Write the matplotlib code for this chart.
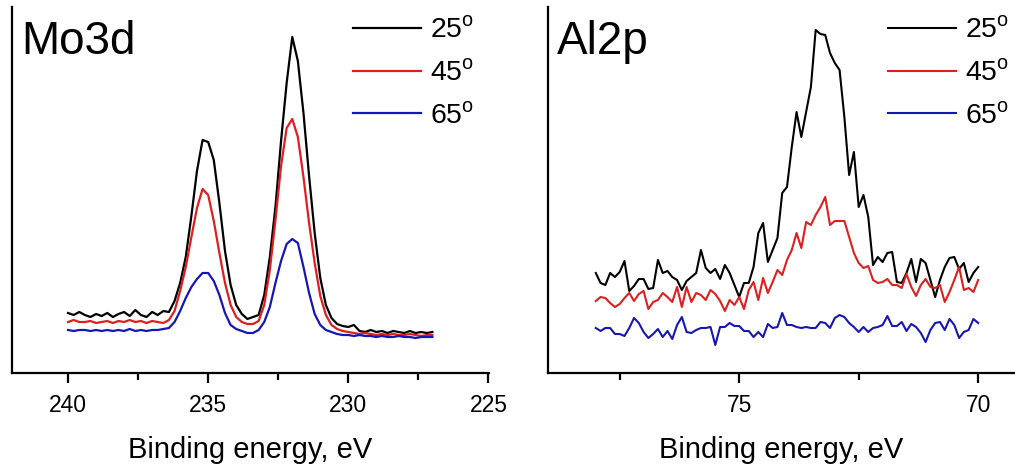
import numpy as np
import matplotlib
matplotlib.use('Agg')
import matplotlib.pyplot as plt
from matplotlib.ticker import MultipleLocator, NullLocator

plt.rcParams['font.family'] = ['Liberation Sans', 'DejaVu Sans']
plt.rcParams['mathtext.fontset'] = 'custom'
plt.rcParams['mathtext.rm'] = 'Liberation Sans'

# Mo3d spectra, 240.0 -> 227.0 eV, step 0.2 eV (arb. units)
mo_energy = np.round(np.linspace(240.0, 227.0, 66), 1)
mo_25 = [60, 58, 61, 58, 56, 59, 57, 60, 56, 59, 61, 57, 63, 58, 56, 61, 58, 62, 61, 72,
         90, 116, 157, 202, 233, 231, 213, 170, 122, 88, 68, 59, 54, 56, 58, 78,
         116, 166, 232, 290, 336, 312, 260, 197, 140, 95, 68, 55, 49, 47, 46, 48,
         42, 41, 43, 41, 42, 40, 42, 41, 40, 42, 40, 41, 40, 41]
mo_45 = [51, 53, 51, 51, 52, 50, 51, 52, 50, 52, 51, 53, 51, 52, 50, 52, 51, 50, 53, 62,
         82, 106, 136, 165, 184, 178, 152, 120, 90, 68, 56, 51, 49, 49, 52, 68,
         103, 153, 207, 245, 254, 236, 196, 150, 110, 77, 58, 48, 44, 42, 41, 40,
         39, 40, 39, 38, 39, 38, 39, 38, 38, 39, 38, 37, 38, 38]
mo_65 = [43, 42, 43, 43, 42, 43, 42, 43, 42, 43, 42, 44, 42, 43, 42, 43, 43, 44, 45, 51,
         62, 75, 86, 94, 100, 100, 92, 78, 60, 48, 44, 42, 40, 40, 43, 51,
         66, 90, 112, 129, 134, 130, 106, 80, 59, 48, 43, 41, 39, 38, 38, 37,
         38, 37, 37, 36, 37, 36, 36, 37, 36, 36, 35, 36, 36, 36]

# Al2p spectra, 78.0 -> 70.0 eV, step 0.1 eV (arb. units)
al_energy = np.round(np.linspace(78.0, 70.0, 81), 1)
al_25 = [100, 90, 88, 100, 96, 101, 112, 82, 87, 94, 94, 84, 85, 113, 100, 102, 96, 93, 83, 92,
         96, 100, 123, 105, 100, 104, 94, 108, 100, 88, 76, 90, 90, 106, 140, 150, 111, 123, 135, 180,
         186, 226, 261, 236, 261, 286, 343, 339, 338, 320, 310, 303, 256, 198, 221, 166, 178, 156, 108, 116,
         111, 120, 121, 91, 90, 100, 114, 91, 114, 110, 93, 76, 93, 106, 115, 116, 104, 110, 91, 100,
         106]
al_45 = [72, 76, 75, 70, 66, 69, 75, 80, 72, 79, 82, 64, 71, 73, 80, 76, 71, 86, 66, 86,
         71, 80, 78, 73, 83, 79, 72, 62, 73, 68, 76, 64, 83, 91, 73, 95, 80, 91, 103, 98,
         113, 123, 140, 125, 151, 148, 158, 166, 176, 148, 152, 152, 152, 136, 120, 110, 105, 107, 93, 90,
         91, 94, 88, 88, 85, 99, 86, 77, 88, 94, 86, 85, 88, 71, 81, 93, 106, 83, 85, 81,
         93]
al_65 = [45, 42, 45, 45, 39, 39, 37, 45, 55, 50, 41, 35, 39, 44, 36, 42, 34, 48, 56, 41,
         40, 43, 45, 45, 46, 28, 46, 46, 50, 47, 47, 42, 42, 36, 41, 36, 49, 45, 46, 60,
         48, 48, 46, 45, 46, 45, 45, 51, 50, 45, 55, 58, 56, 50, 46, 41, 46, 41, 45, 46,
         48, 57, 47, 47, 51, 42, 49, 46, 40, 31, 43, 50, 51, 43, 54, 48, 35, 41, 43, 54,
         50]

labels = ['25$^{\\mathrm{o}}$', '45$^{\\mathrm{o}}$', '65$^{\\mathrm{o}}$']
colors = ['#000000', '#dd1f1f', '#1616b4']

W, H = 1015, 468
fig = plt.figure(figsize=(W / 100, H / 100), dpi=100)
ax1 = fig.add_axes([12 / W, (H - 373) / H, 477 / W, 366 / H])
ax2 = fig.add_axes([548 / W, (H - 373) / H, 467 / W, 366 / H])


def style(ax, name, xlim, leg_x):
    ax.set_xlim(*xlim)
    ax.set_ylim(0, 366)
    ax.spines['top'].set_visible(False)
    ax.spines['right'].set_visible(False)
    ax.spines['left'].set_linewidth(1.6)
    ax.spines['bottom'].set_linewidth(1.6)
    ax.yaxis.set_major_locator(NullLocator())
    ax.xaxis.set_major_locator(MultipleLocator(5))
    ax.xaxis.set_minor_locator(MultipleLocator(2.5))
    ax.tick_params(axis='x', which='major', direction='out', length=7, width=1.6,
                   labelsize=16.5, pad=8)
    ax.tick_params(axis='x', which='minor', direction='out', length=5, width=1.6)
    ax.set_xlabel('Binding energy, eV', fontsize=21, labelpad=14)
    ax.text(0.02, 0.965, name, transform=ax.transAxes, fontsize=33,
            va='top', ha='left')
    ax.legend(loc='upper left', bbox_to_anchor=(leg_x, 0.972), frameon=False,
              fontsize=20.5, handlelength=2.4, handletextpad=0.3,
              labelspacing=0.56, borderpad=0, borderaxespad=0)


for vals, lab, col in zip([mo_25, mo_45, mo_65], labels, colors):
    ax1.plot(mo_energy, vals, color=col, lw=1.6, label=lab)
style(ax1, 'Mo3d', (242.0, 224.98), (353 - 12) / 477)

for vals, lab, col in zip([al_25, al_45, al_65], labels, colors):
    ax2.plot(al_energy, vals, color=col, lw=1.5, label=lab)
style(ax2, 'Al2p', (79.0, 69.23), (888 - 548) / 467)

fig.savefig('out.png', dpi=100)
